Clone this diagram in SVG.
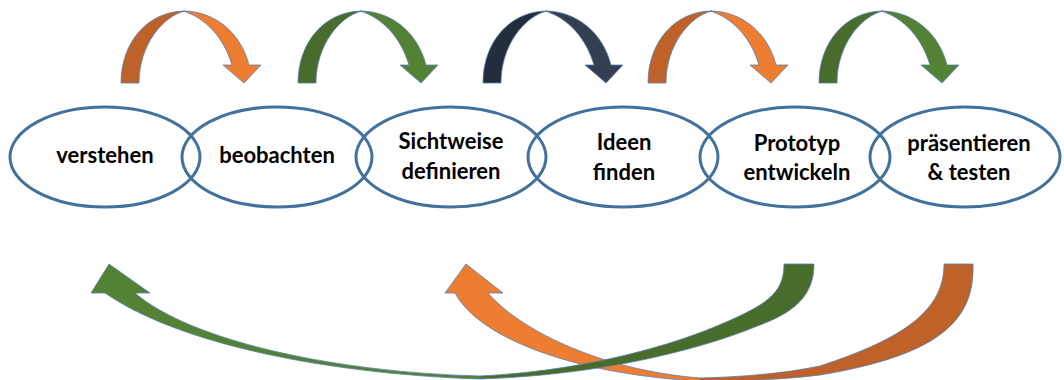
<svg xmlns="http://www.w3.org/2000/svg" width="1064" height="380" viewBox="0 0 1064 380">
<defs>
<style>
.ell{fill:none;stroke:#41719C;stroke-width:3}
.lbl{font-family:Lato,"Liberation Sans",sans-serif;font-weight:bold;font-size:22px;fill:#000;text-anchor:middle}
.ol{stroke:#5A7FAE;stroke-width:0.8;stroke-linejoin:round}
.od{fill:#BF6229}.ok{fill:#ED7D31}
.gd{fill:#476C2C}.gl{fill:#548235}
.nd{fill:#232D3B}.nl{fill:#333F50}
</style>
<g id="arcArrow">
<path class="ol dark" d="M121,83 C121,42 148,11 185,11 C163,16 139,45 139,83 Z"/>
<path class="ol light" d="M183,11 C215,11 241,33 249,65 L261,65 L244,83 L223,65 L232,65 C224,38 206,18 183,11 Z"/>
</g>
</defs>
<g id="connectors">
<g id="top1">
<path class="ol od" d="M121,83 C121,42 148,11 185,11 C163,16 139,45 139,83 Z"/>
<path class="ol ok" d="M183,11 C215,11 241,33 249,65 L261,65 L244,83 L223,65 L232,65 C224,38 206,18 183,11 Z"/>
</g>
<g id="top2" transform="translate(177,0)">
<path class="ol gd" d="M121,83 C121,42 148,11 185,11 C163,16 139,45 139,83 Z"/>
<path class="ol gl" d="M183,11 C215,11 241,33 249,65 L261,65 L244,83 L223,65 L232,65 C224,38 206,18 183,11 Z"/>
</g>
<g id="top3" transform="translate(362,0)">
<path class="ol nd" d="M121,83 C121,42 148,11 185,11 C163,16 139,45 139,83 Z"/>
<path class="ol nl" d="M183,11 C215,11 241,33 249,65 L261,65 L244,83 L223,65 L232,65 C224,38 206,18 183,11 Z"/>
</g>
<g id="top4" transform="translate(527,0)">
<path class="ol od" d="M121,83 C121,42 148,11 185,11 C163,16 139,45 139,83 Z"/>
<path class="ol ok" d="M183,11 C215,11 241,33 249,65 L261,65 L244,83 L223,65 L232,65 C224,38 206,18 183,11 Z"/>
</g>
<g id="top5" transform="translate(698,0)">
<path class="ol gd" d="M121,83 C121,42 148,11 185,11 C163,16 139,45 139,83 Z"/>
<path class="ol gl" d="M183,11 C215,11 241,33 249,65 L261,65 L244,83 L223,65 L232,65 C224,38 206,18 183,11 Z"/>
</g>
<g id="backOrange">
<path class="ol od" d="M700,378 C740,377 780,374 820,366 C905,338 944,310 944,264 L973,264 C975,320 940,355 820,375 C780,380 740,381 700,381 Z"/>
<path class="ol ok" d="M700,381 C580,375 480,340 455,293 L445,293 L466,264 L503,293 L488,293 C520,330 600,370 700,378 Z"/>
</g>
<g id="backGreen">
<path class="ol gd" d="M480,376 C600,370 700,338 755,308 C776,296 784,284 784,264 L814,264 C814,295 795,312 760,325 C700,350 600,375 480,379 Z"/>
<path class="ol gl" d="M480,379 C330,374 180,345 105,293 L91,293 L109,264 L150,293 L135,293 C190,340 330,372 480,376 Z"/>
</g>
</g>
<g id="n1"><ellipse class="ell" cx="105" cy="157" rx="95" ry="50"/><text class="lbl" x="105" y="163">verstehen</text></g>
<g id="n2"><ellipse class="ell" cx="277" cy="157" rx="95" ry="50"/><text class="lbl" x="277" y="163">beobachten</text></g>
<g id="n3"><ellipse class="ell" cx="451" cy="157" rx="95" ry="50"/><text class="lbl" x="451" y="149">Sichtweise</text><text class="lbl" x="451" y="179">definieren</text></g>
<g id="n4"><ellipse class="ell" cx="623" cy="157" rx="95" ry="50"/><text class="lbl" x="624" y="150">Ideen</text><text class="lbl" x="624" y="180">finden</text></g>
<g id="n5"><ellipse class="ell" cx="795" cy="157" rx="95" ry="50"/><text class="lbl" x="797" y="151">Prototyp</text><text class="lbl" x="797" y="180">entwickeln</text></g>
<g id="n6"><ellipse class="ell" cx="965" cy="157" rx="95" ry="50"/><text class="lbl" x="969" y="151">präsentieren</text><text class="lbl" x="969" y="180">&amp; testen</text></g>
</svg>
